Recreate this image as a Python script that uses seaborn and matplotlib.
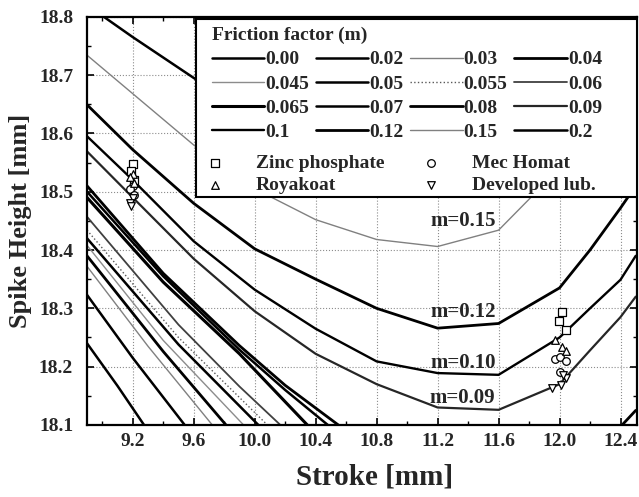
import numpy as np
import pandas as pd
import matplotlib
matplotlib.use('Agg')
import matplotlib.pyplot as plt
import seaborn as sns
from matplotlib.patches import Rectangle
from matplotlib.ticker import MultipleLocator

# friction factor curves (stroke [mm] -> spike height [mm])
x_grid = [8.9, 9.2, 9.6, 10.0, 10.4, 10.8, 11.2, 11.6, 12.0, 12.2, 12.4, 12.5]
y_m020 = [18.82, 18.765, 18.695, 18.63, 18.58, 18.55, 18.54, 18.57, 18.68, 18.76, 18.85, 18.9]
y_m015 = [18.734, 18.668, 18.58, 18.505, 18.452, 18.418, 18.406, 18.434, 18.54, 18.61, 18.68, 18.72]
y_m012 = [18.649, 18.572, 18.48, 18.402, 18.35, 18.30, 18.266, 18.274, 18.335, 18.40, 18.472, 18.51]
y_m010 = [18.595, 18.52, 18.415, 18.332, 18.265, 18.209, 18.189, 18.186, 18.25, 18.30, 18.349, 18.39]
y_m009 = [18.569, 18.49, 18.385, 18.295, 18.222, 18.17, 18.13, 18.126, 18.17, 18.228, 18.285, 18.32]

x_m000 = [8.9, 9.1, 9.3]
y_m000 = [18.24, 18.167, 18.09]
x_m002 = [8.9, 9.2, 9.6]
y_m002 = [18.323, 18.215, 18.08]
x_m003 = [8.9, 9.3, 9.8]
y_m003 = [18.372, 18.235, 18.075]
x_m004 = [8.9, 9.4, 9.9]
y_m004 = [18.39, 18.226, 18.073]
x_m0045 = [8.9, 9.4, 10.0]
y_m0045 = [18.408, 18.245, 18.08]
x_m005 = [8.9, 9.5, 10.1]
y_m005 = [18.42, 18.238, 18.08]
x_m0055 = [8.9, 9.5, 10.2]
y_m0055 = [18.434, 18.25, 18.07]
x_m006 = [8.9, 9.5, 9.9, 10.25]
y_m006 = [18.457, 18.272, 18.166, 18.08]
x_m0065 = [8.9, 9.4, 9.9, 10.4]
y_m0065 = [18.49, 18.345, 18.222, 18.085]
x_m007 = [8.9, 9.4, 9.9, 10.2, 10.55]
y_m007 = [18.50, 18.355, 18.229, 18.16, 18.085]
x_m008 = [8.9, 9.4, 9.9, 10.2, 10.6, 11.2, 11.8, 12.4, 12.5]
y_m008 = [18.51, 18.36, 18.236, 18.168, 18.09, 17.98, 17.97, 18.097, 18.125]

# measured spike heights
zinc_x = [9.2, 9.19, 9.21, 12.017, 11.995, 12.04]
zinc_y = [18.548, 18.535, 18.52, 18.293, 18.279, 18.262]
mec_x = [9.2, 9.18, 9.21, 11.97, 12.0, 12.045, 12.0]
mec_y = [18.51, 18.505, 18.495, 18.213, 18.217, 18.209, 18.19]
roya_x = [9.2, 9.18, 9.21, 11.97, 12.017, 12.04]
roya_y = [18.53, 18.525, 18.515, 18.246, 18.234, 18.226]
dev_x = [9.2, 9.18, 9.19, 11.95, 12.01, 12.04, 12.02]
dev_y = [18.49, 18.48, 18.475, 18.163, 18.168, 18.18, 18.186]

m_labels = ['0.00', '0.02', '0.03', '0.04', '0.045', '0.05', '0.055', '0.06',
            '0.065', '0.07', '0.08', '0.09', '0.1', '0.12', '0.15', '0.2']

curves = {
    '0.00': (x_m000, y_m000), '0.02': (x_m002, y_m002), '0.03': (x_m003, y_m003),
    '0.04': (x_m004, y_m004), '0.045': (x_m0045, y_m0045), '0.05': (x_m005, y_m005),
    '0.055': (x_m0055, y_m0055), '0.06': (x_m006, y_m006), '0.065': (x_m0065, y_m0065),
    '0.07': (x_m007, y_m007), '0.08': (x_m008, y_m008), '0.09': (x_grid, y_m009),
    '0.1': (x_grid, y_m010), '0.12': (x_grid, y_m012), '0.15': (x_grid, y_m015),
    '0.2': (x_grid, y_m020),
}
# line look per friction factor: (colour, width, style)
styles = {
    '0.00': ('black', 1.8, '-'), '0.02': ('black', 1.8, '-'), '0.03': ('0.5', 1.0, '-'),
    '0.04': ('black', 2.0, '-'), '0.045': ('0.55', 1.0, '-'), '0.05': ('black', 1.8, '-'),
    '0.055': ('0.35', 1.0, ':'), '0.06': ('0.25', 1.3, '-'), '0.065': ('black', 2.2, '-'),
    '0.07': ('black', 1.8, '-'), '0.08': ('black', 2.0, '-'), '0.09': ('0.15', 1.6, '-'),
    '0.1': ('black', 1.7, '-'), '0.12': ('black', 2.0, '-'), '0.15': ('0.5', 1.0, '-'),
    '0.2': ('black', 1.8, '-'),
}

sns.set_theme(style='ticks')
plt.rcParams['font.family'] = ['Liberation Serif', 'DejaVu Serif']
plt.rcParams['font.weight'] = 'bold'
plt.rcParams['axes.labelweight'] = 'bold'

fig = plt.figure(figsize=(6.39, 4.97), dpi=100)
ax = fig.add_axes([0.1362, 0.1449, 0.8599, 0.8215])

handles = {}
for m in m_labels:
    xs, ys = curves[m]
    c, lw, ls = styles[m]
    sns.lineplot(x=xs, y=ys, ax=ax, color=c, lw=lw, ls=ls, sort=False, zorder=2)
    handles[m] = ax.lines[-1]

mk = dict(ax=ax, facecolor='white', edgecolor='black', linewidth=0.9, s=30, zorder=3)
h_zinc = sns.scatterplot(x=zinc_x, y=zinc_y, marker='s', **mk).collections[-1]
h_mec = sns.scatterplot(x=mec_x, y=mec_y, marker='o', **mk).collections[-1]
h_roya = sns.scatterplot(x=roya_x, y=roya_y, marker='^', **mk).collections[-1]
h_dev = sns.scatterplot(x=dev_x, y=dev_y, marker='v', **mk).collections[-1]

for txt, yy in [('m=0.15', 18.449), ('m=0.12', 18.294), ('m=0.10', 18.206), ('m=0.09', 18.146)]:
    ax.text(11.58, yy, txt, ha='right', va='center', fontsize=15, fontweight='bold', zorder=3)

ax.set_xlim(8.9, 12.505)
ax.set_ylim(18.1, 18.8)
ax.xaxis.set_minor_locator(MultipleLocator(0.2))
ax.yaxis.set_major_locator(MultipleLocator(0.1))
ax.yaxis.set_minor_locator(MultipleLocator(0.05))
ax.set_xticks(np.arange(9.2, 12.41, 0.4))
ax.set_xticklabels([f'{v:.1f}' for v in np.arange(9.2, 12.41, 0.4)])
ax.tick_params(which='both', direction='in', top=True, right=True, color='black')
ax.tick_params(which='major', length=5, width=1.2, labelsize=14)
ax.tick_params(which='minor', length=3, width=1.0)
ax.tick_params(axis='y', which='major', pad=10)
ax.tick_params(axis='x', which='major', pad=6)
ax.grid(True, which='major', ls=':', color='0.55', lw=0.8)
for s in ax.spines.values():
    s.set_color('black')
    s.set_linewidth(1.6)

ax.set_xlabel('Stroke [mm]', fontsize=21, fontweight='bold')
ax.set_ylabel('Spike Height [mm]', fontsize=19, fontweight='bold')
ax.xaxis.set_label_coords(0.524, -0.095)
ax.yaxis.set_label_coords(-0.10, 0.5)

# legend box
ax.add_patch(Rectangle((0.1985, 0.558), 0.8015, 0.436, transform=ax.transAxes,
                       facecolor='white', edgecolor='black', lw=1.5, zorder=4))
order = [0, 4, 8, 12, 1, 5, 9, 13, 2, 6, 10, 14, 3, 7, 11, 15]
leg1 = ax.legend([handles[m_labels[i]] for i in order], [m_labels[i] for i in order],
                 ncol=4, loc='upper left', bbox_to_anchor=(0.223, 0.98), frameon=False,
                 title='Friction factor (m)', alignment='left', fontsize=14,
                 title_fontproperties={'weight': 'bold', 'size': 14},
                 handlelength=2.7, handletextpad=0.05, columnspacing=0.35,
                 labelspacing=0.34, borderpad=0.1, borderaxespad=0)
leg1.set_zorder(5)
ax.add_artist(leg1)
leg2 = ax.legend([h_zinc, h_roya, h_mec, h_dev],
                 ['Zinc phosphate', 'Royakoat', 'Mec Homat', 'Developed lub.'],
                 ncol=2, loc='upper left', bbox_to_anchor=(0.215, 0.668), frameon=False,
                 fontsize=14, handlelength=0.8, handletextpad=1.7, columnspacing=2.0,
                 labelspacing=0.22, borderpad=0.1, borderaxespad=0, scatterpoints=1)
leg2.set_zorder(5)

fig.savefig('out.png', dpi=100)
